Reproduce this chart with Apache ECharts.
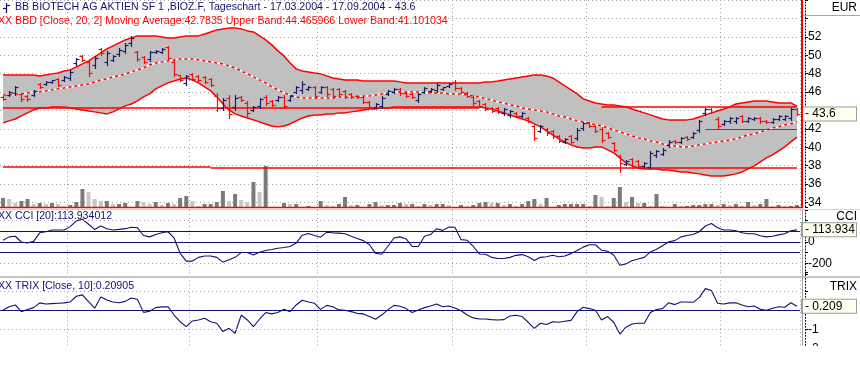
<!DOCTYPE html>
<html>
<head>
<meta charset="utf-8">
<script src="https://cdn.jsdelivr.net/npm/echarts@6/dist/echarts.min.js"></script>
<style>
html,body{margin:0;padding:0;background:#ffffff;}
#chart{width:860px;height:384px;}
</style>
</head>
<body>
<div id="chart"></div>
<script>
// ---------------- data ----------------
const tradingDays = {
  '2004-03': [17,18,19,22,23,24,25,26,29,30,31],
  '2004-04': [1,2,5,6,7,8,13,14,15,16,19,20,21,22,23,26,27,28,29,30],
  '2004-05': [3,4,5,6,7,10,11,12,13,14,17,18,19,20,21,24,25,26,27,28,31],
  '2004-06': [1,2,3,4,7,8,9,10,11,14,15,16,17,18,21,22,23,24,25,28,29,30],
  '2004-07': [1,2,5,6,7,8,9,12,13,14,15,16,19,20,21,22,23,26,27,28,29,30],
  '2004-08': [2,3,4,5,6,9,10,11,12,13,16,17,18,19,20,23,24,25,26,27,30,31],
  '2004-09': [1,2,3,6,7,8,9,10,13,14,15,16,17]
};
const dates = [];
Object.keys(tradingDays).forEach(m => tradingDays[m].forEach(d => dates.push(m + '-' + String(d).padStart(2, '0'))));

// [open, high, low, close]
const ohlc = [
[45.50,45.57,45.14,45.25],[45.70,46.12,45.57,46.00],[45.90,46.66,45.68,46.50],[45.80,45.90,45.03,45.20],[45.60,45.68,45.03,45.20],
[45.70,46.23,45.57,46.10],[46.90,46.99,46.44,46.55],[46.85,47.20,46.77,47.10],[47.05,47.31,46.99,47.25],[47.40,47.53,46.66,46.80],
[47.30,47.75,47.20,47.65],[47.50,48.40,47.31,48.20],[49.10,49.71,48.94,49.55],[49.90,50.03,49.38,49.50],[49.30,49.49,47.75,48.10],
[48.90,49.92,48.62,49.70],[50.70,50.79,50.03,50.20],[49.30,50.47,48.94,50.20],[49.50,50.03,49.38,49.90],[50.10,50.79,49.92,50.60],
[50.50,51.34,50.25,51.10],[51.30,52.10,51.01,51.90],[50.30,50.47,49.38,49.60],[49.80,49.92,49.16,49.30],[49.60,50.47,49.38,50.30],
[50.35,50.57,50.25,50.50],[50.40,50.79,50.25,50.70],[50.90,51.01,49.49,49.70],[49.30,49.49,47.75,48.00],[47.80,47.86,47.20,47.30],
[47.00,47.86,46.77,47.70],[47.95,48.07,47.31,47.45],[47.75,47.86,47.20,47.30],[47.60,47.75,46.99,47.10],[47.40,47.53,46.66,46.80],
[45.60,45.90,43.94,44.30],[44.30,45.36,44.05,45.10],[45.40,45.68,43.18,43.60],[44.40,45.68,44.05,45.40],[45.50,45.57,45.03,45.10],
[44.80,45.03,43.40,43.70],[44.05,44.49,43.94,44.40],[44.50,45.36,44.27,45.20],[45.50,45.68,44.60,44.80],[45.00,45.14,44.49,44.60],
[45.15,45.57,45.03,45.45],[45.50,45.68,44.27,44.50],[45.15,45.68,45.03,45.55],[46.00,46.66,45.90,46.50],[46.20,47.20,45.90,46.90],
[46.35,46.66,46.23,46.55],[46.50,46.66,45.36,45.60],[46.00,46.66,45.90,46.50],[46.50,46.66,45.57,45.80],[46.30,46.44,45.36,45.60],
[46.30,46.44,45.57,45.75],[46.10,46.23,45.36,45.50],[45.80,45.90,45.36,45.50],[45.60,45.68,45.36,45.45],[45.45,45.57,44.81,44.95],
[44.90,45.03,44.27,44.40],[44.40,44.81,44.27,44.70],[44.50,45.57,44.27,45.40],[45.80,46.23,45.68,46.10],[46.00,46.44,45.90,46.35],
[46.30,46.44,45.68,45.85],[45.90,46.01,45.47,45.60],[45.80,45.90,45.36,45.45],[45.10,45.90,44.92,45.75],[46.00,46.55,45.90,46.40],
[46.10,46.44,46.01,46.35],[46.20,46.99,46.01,46.80],[46.30,46.55,46.23,46.50],[46.65,46.99,46.55,46.90],[47.10,47.31,46.23,46.40],
[46.45,46.55,45.90,46.00],[45.90,46.01,45.47,45.60],[45.50,45.68,44.60,44.80],[45.00,45.14,44.38,44.50],[44.70,44.81,44.05,44.20],
[44.30,44.38,43.84,43.95],[44.25,44.38,43.73,43.85],[43.70,44.27,43.51,44.10],[43.50,44.05,43.29,43.90],[43.75,43.84,43.29,43.40],
[43.40,43.84,43.29,43.75],[43.20,43.29,42.75,42.90],[42.30,42.42,40.79,41.00],[41.80,42.42,41.66,42.30],[42.00,42.10,41.34,41.50],
[41.75,41.88,41.01,41.20],[41.20,41.34,40.57,40.70],[40.60,41.01,40.47,40.90],[41.20,41.34,40.47,40.60],[41.00,42.10,40.79,41.90],
[42.10,42.75,41.88,42.60],[42.65,42.75,42.21,42.30],[42.30,42.42,41.66,41.80],[42.00,42.21,40.57,40.80],[41.55,41.66,41.01,41.15],
[40.50,40.57,39.60,39.75],[39.00,39.10,37.31,38.30],[38.20,38.62,38.08,38.50],[38.70,38.84,37.75,38.00],[38.50,38.62,37.86,38.00],
[37.95,38.40,37.86,38.25],[37.90,39.60,37.75,39.40],[39.10,39.71,38.94,39.55],[39.30,39.92,39.16,39.75],[40.20,40.79,40.03,40.60],
[40.70,40.79,40.47,40.55],[40.60,41.12,40.47,41.00],[41.15,41.23,40.79,40.90],[41.15,41.66,41.01,41.50],[41.90,42.97,41.66,42.80],
[43.70,44.27,43.51,44.10],[44.20,44.27,43.73,43.85],[43.10,43.29,42.10,42.30],[42.55,42.97,42.42,42.85],[42.80,43.29,42.64,43.15],
[42.80,43.29,42.64,43.15],[43.40,43.51,42.75,42.90],[42.90,43.29,42.75,43.20],[43.05,43.29,42.97,43.20],[43.20,43.29,42.64,42.80],
[42.90,42.97,42.64,42.70],[42.75,43.18,42.64,43.05],[43.10,43.51,42.97,43.40],[43.10,43.51,42.97,43.40],[43.20,44.27,42.97,44.10],
[44.20,44.27,43.51,43.60]
];

const volume = [
9,8,4,6,8,3,4,3,4,3, 1,2,5,18,15,8,6,6,3,3, 4,0,6,5,3,5,2,4,3,9, 11,6,1,3,3,5,16,6,13,7,
5,25,15,41,0,0,4,3,3,0, 1,0,6,2,1,3,10,2,2,0, 3,5,2,2,2,4,3,3,1,3,2,
3,3,2,0,2,1,2,4,5,4, 4,2,3,1,3,6,8,3,9,0, 2,3,3,3,3,1,12,10,1,9, 20,5,10,4,4,1,13,1,0,3,
1,1,2,2,3,3,2,3,2,3, 1,5,2,3,8,1,2,1,1,2
];

const bbUpper = [
47.86,47.86,47.86,47.86,47.86,47.86,47.75,47.86,47.97,48.07, 48.29,48.40,48.73,49.05,49.38,49.81,50.25,50.68,51.01,51.34,
51.66,51.88,52.10,52.10,52.10,52.10,51.99,51.88,51.88,51.99, 52.10,52.10,52.10,52.31,52.53,52.75,52.86,52.97,52.97,52.86,
52.64,52.53,52.10,51.66,51.12,50.47,49.92,49.16,48.51,48.29, 48.18,48.07,47.97,47.75,47.53,47.42,47.31,47.31,47.31,47.20,
47.20,47.20,47.20,47.20,47.20,47.10,46.99,46.99,46.99,46.99, 46.99,46.99,46.99,46.99,46.99,46.99,46.99,46.99,46.99,47.10,
47.10,47.20,47.31,47.42,47.53,47.64,47.75,47.86,47.86,47.75, 47.53,47.10,46.66,46.23,45.79,45.25,45.03,44.81,44.70,44.60,
44.60,44.49,44.38,44.16,43.94,43.73,43.51,43.29,43.07,42.97, 42.97,42.97,42.97,43.07,43.29,43.51,43.73,43.94,44.16,44.38,
44.70,44.81,44.92,45.03,45.03,45.03,44.92,44.81,44.81,44.81, 44.47
];
const bbMid = [
45.68,45.68,45.79,45.79,45.90,46.01,46.01,46.12,46.23,46.34, 46.44,46.55,46.66,46.77,46.88,47.10,47.31,47.42,47.64,47.75,
47.97,48.18,48.40,48.62,48.94,49.16,49.27,49.38,49.49,49.60, 49.60,49.60,49.49,49.38,49.27,49.16,49.05,48.84,48.62,48.29,
47.97,47.64,47.31,46.99,46.55,46.23,45.90,45.68,45.47,45.36, 45.36,45.36,45.36,45.36,45.36,45.47,45.47,45.47,45.47,45.57,
45.57,45.68,45.79,45.90,46.01,46.01,46.01,46.01,46.01,45.90, 45.90,45.90,45.90,45.79,45.79,45.79,45.68,45.57,45.47,45.25,
45.14,44.92,44.81,44.60,44.49,44.27,44.16,44.05,43.94,43.84, 43.62,43.40,43.29,43.07,42.86,42.75,42.64,42.42,42.31,42.10,
41.88,41.66,41.44,41.23,41.01,40.90,40.68,40.57,40.36,40.25, 40.14,40.03,40.03,40.14,40.25,40.36,40.47,40.57,40.68,40.79,
40.90,41.12,41.34,41.44,41.66,41.88,42.10,42.21,42.42,42.53, 42.78
];
const bbLower = [
42.64,42.86,43.07,43.40,43.73,44.05,44.27,44.27,44.38,44.38, 44.38,44.27,44.16,44.05,43.94,43.84,43.73,43.62,43.84,44.16,
44.49,44.70,45.03,45.47,45.79,46.34,46.66,46.99,47.20,47.42, 47.53,47.31,46.99,46.55,46.12,45.47,44.70,44.05,43.62,43.40,
43.18,42.97,42.75,42.53,42.31,42.21,42.31,42.53,42.86,43.18, 43.40,43.51,43.51,43.62,43.62,43.73,43.73,43.84,43.94,44.05,
44.16,44.16,44.27,44.27,44.38,44.38,44.38,44.38,44.38,44.38, 44.38,44.38,44.38,44.38,44.38,44.38,44.38,44.38,44.38,44.27,
44.16,43.94,43.73,43.51,43.29,43.07,42.86,42.53,42.21,41.77, 41.34,40.90,40.57,40.25,40.03,39.92,39.92,40.03,40.03,39.71,
39.38,38.84,38.29,37.97,37.75,37.64,37.64,37.64,37.53,37.53, 37.42,37.31,37.31,37.20,37.10,36.99,36.88,36.88,36.88,36.99,
37.10,37.31,37.64,37.97,38.40,38.84,39.16,39.60,40.03,40.57, 41.10
];

const cci = [
16,48,54,0,-10,6,86,96,112,112, 112,144,198,214,166,118,150,125,112,118,
125,138,134,61,48,70,86,96,38,-106, -179,-179,-144,-131,-131,-144,-189,-166,-144,-99,
-99,-122,-96,-80,-70,-58,-51,-42,-10,64, 80,61,45,93,86,83,77,54,32,13,
-26,-106,-115,-42,38,48,29,-42,-42,54, 70,125,109,141,138,22,16,-42,-112,-115,
-144,-154,-154,-144,-125,-118,-138,-173,-144,-138, -125,-138,-131,-109,-80,-48,-26,-26,-77,-86,
-122,-218,-205,-176,-160,-144,-93,-67,-35,3, 13,48,61,70,96,150,173,134,112,112,
106,86,77,77,58,48,54,67,77,106, 114
];

const trix = [
0.02,0.19,0.28,-0.07,0.04,0.14,0.39,0.33,0.35,0.37, 0.39,0.44,0.74,0.81,0.46,0.11,0.70,0.54,0.44,0.40,
0.47,0.65,0.58,-0.11,-0.05,0.14,0.18,0.19,-0.25,-0.60, -0.86,-0.56,-0.51,-0.42,-0.60,-0.68,-1.12,-0.95,-1.21,-0.25,
-0.51,-0.86,-0.47,-0.12,-0.19,-0.12,0.05,-0.07,0.28,0.53, 0.44,0.37,0.05,0.26,0.19,0.02,0,-0.07,-0.16,-0.19,
-0.33,-0.47,-0.25,0.02,0.26,0.21,0.09,-0.12,0.02,0.14, 0.23,0.33,0.19,0.23,0.12,-0.02,-0.25,-0.40,-0.46,-0.46,
-0.49,-0.51,-0.49,-0.30,-0.26,-0.33,-0.63,-0.95,-0.68,-0.75, -0.60,-0.63,-0.58,-0.53,-0.07,0.16,0.09,0,-0.51,-0.33,
-0.63,-1.25,-0.89,-0.72,-0.68,-0.68,-0.12,0.04,0.09,0.40, 0.30,0.44,0.44,0.42,0.67,1.14,1.04,0.37,0.33,0.39,
0.40,0.28,0.19,0.23,0.05,0,0.11,0.19,0.16,0.40, 0.21
];

// annotation levels drawn on the price panel: [fromIndex, toIndex, price]
const resistanceLines = [[0, 78, 44.30], [98, 130, 44.35], [0, 34, 37.88], [34, 130, 37.77]];
const supportLine42 = [115, 130, 42.0];

const priceLabels = [34, 36, 38, 40, 42, 46, 48, 50, 52];
const cciLabels = [0, -200];
const trixLabels = [-1, -2];
const lastClose = 43.6, lastCci = 113.934, lastTrix = 0.209;

const titleText = 'BB BIOTECH AG AKTIEN SF 1 ,BIOZ.F, Tageschart - 17.03.2004 - 17.09.2004 - 43.6';
const bbText = 'XX BBD [Close, 20, 2] Moving Average:42.7835 Upper Band:44.465966 Lower Band:41.101034';
const cciText = 'XX CCI [20]:113.934012';
const trixText = 'XX TRIX [Close, 10]:0.20905';

// ---------------- chart ----------------
const FONT = 'Liberation Sans';
const UP = '#1c1c66', DOWN = '#ee1010', NAVY = '#121270', RED = '#ff0000';
const GRIDC = '#a4a4a4';

const chart = echarts.init(document.getElementById('chart'), null, {renderer: 'canvas'});

const monthStart = idx => idx > 0 && dates[idx].slice(0, 7) !== dates[idx - 1].slice(0, 7);

function rightAxis(grid, extra, labels) {
  return Object.assign({
    type: 'value', gridIndex: grid, position: 'right', offset: 5,
    axisLine: {show: true, lineStyle: {color: '#000', type: [1, 2], width: 1}},
    axisTick: {show: true, length: 3, lineStyle: {color: '#000'}},
    axisLabel: {margin: 3, fontFamily: FONT, fontSize: 12, color: '#000',
      formatter: v => labels.includes(v) ? String(v) : ''},
    splitLine: {show: false}
  }, extra);
}

function boxLabel(text) {
  return {show: true, position: 'end', distance: 2, formatter: text, fontFamily: FONT, fontSize: 12,
    color: '#000', backgroundColor: '#fffff0', borderColor: '#9c9c9c', borderWidth: 1,
    padding: [1, 2, 0, 3], width: 49, lineHeight: 12, align: 'left', verticalAlign: 'middle'};
}
const hiddenLine = {color: 'rgba(0,0,0,0)', width: 0, type: 'solid'};

const segStyle = {color: RED, width: 1.5, type: 'solid'};
const s42Style = {color: '#b42828', width: 1, type: 'solid'};
const priceMarks = resistanceLines.map(s => [
  {coord: [dates[s[0]], s[2]], lineStyle: segStyle},
  {coord: [dates[s[1]], s[2]], lineStyle: segStyle}
]);
priceMarks.push([
  {coord: [dates[supportLine42[0]], supportLine42[2]], lineStyle: s42Style},
  {coord: [dates[supportLine42[1]], supportLine42[2]], lineStyle: s42Style}
]);

const navyLine = {color: NAVY, width: 1.2, type: 'solid'};
const dotLine = {color: GRIDC, width: 1, type: [1, 3]};

function boxMark(value) {
  return {silent: true, symbol: ['none', 'none'], animation: false, z: 20, emphasis: {disabled: true},
    lineStyle: hiddenLine, label: boxLabel('- ' + value), data: [{yAxis: value}]};
}

const option = {
  animation: false,
  backgroundColor: '#ffffff',
  grid: [
    {left: 0, top: 0, width: 800, height: 207, outerBoundsMode: 'none'},
    {left: 0, top: 210, width: 800, height: 64, outerBoundsMode: 'none'},
    {left: 0, top: 272.3, width: 800, height: 76, outerBoundsMode: 'none'}
  ],
  xAxis: [0, 1, 2].map(g => ({
    type: 'category', gridIndex: g, data: dates, boundaryGap: true,
    axisLine: {show: false}, axisTick: {show: false}, axisLabel: {show: false},
    splitLine: {show: true, interval: (idx) => monthStart(idx), lineStyle: {color: GRIDC, type: [1, 3], width: 1}}
  })),
  yAxis: [
    rightAxis(0, {min: 33.5, max: 56, splitNumber: 11,
      splitLine: {show: true, lineStyle: {color: GRIDC, type: [1, 3], width: 1}}}, priceLabels),
    {type: 'value', gridIndex: 0, show: false, min: 0, max: 207, splitLine: {show: false}},
    rightAxis(1, {min: -300, max: 300, interval: 100}, cciLabels),
    rightAxis(2, {min: -2, max: 2, interval: 1}, trixLabels)
  ],
  series: [
    {name: 'Volume', type: 'bar', xAxisIndex: 0, yAxisIndex: 1, data: volume, barWidth: 4, silent: true, z: 1,
      itemStyle: {color: p => (p.dataIndex === 0 || volume[p.dataIndex] >= volume[p.dataIndex - 1]) ? '#7a7a7a' : '#c6c6c6'}},
    {name: 'BB base', type: 'line', xAxisIndex: 0, yAxisIndex: 0, data: bbLower, stack: 'bb', symbol: 'none', z: 1,
      lineStyle: {opacity: 0}, silent: true},
    {name: 'BB band', type: 'line', xAxisIndex: 0, yAxisIndex: 0, stack: 'bb', symbol: 'none', silent: true, z: 1,
      data: bbUpper.map((u, i) => +(u - bbLower[i]).toFixed(2)),
      lineStyle: {opacity: 0}, areaStyle: {color: '#c0c0c0', opacity: 1}},
    {name: 'Upper Band', type: 'line', xAxisIndex: 0, yAxisIndex: 0, data: bbUpper, symbol: 'none', silent: true, z: 2,
      lineStyle: {color: RED, width: 1.5}},
    {name: 'Lower Band', type: 'line', xAxisIndex: 0, yAxisIndex: 0, data: bbLower, symbol: 'none', silent: true, z: 2,
      lineStyle: {color: RED, width: 1.5}},
    {name: 'MA base', type: 'line', xAxisIndex: 0, yAxisIndex: 0, data: bbMid, symbol: 'none', silent: true, z: 2,
      lineStyle: {color: '#ffffff', width: 1.5}},
    {name: 'Moving Average', type: 'line', xAxisIndex: 0, yAxisIndex: 0, data: bbMid, symbol: 'none', silent: true, z: 2,
      lineStyle: {color: RED, width: 1.5, type: [3, 3]},
      markLine: {silent: true, symbol: ['none', 'none'], animation: false, label: {show: false},
        emphasis: {disabled: true}, data: priceMarks}},
    {name: 'OHLC', type: 'custom', xAxisIndex: 0, yAxisIndex: 0, silent: true, z: 6,
      data: ohlc.map((d, i) => [i, d[0], d[1], d[2], d[3]]),
      encode: {x: 0, y: [1, 2, 3, 4]},
      renderItem: (params, api) => {
        const i = api.value(0), o = api.value(1), h = api.value(2), l = api.value(3), c = api.value(4);
        const pH = api.coord([i, h]), pL = api.coord([i, l]), pO = api.coord([i, o]), pC = api.coord([i, c]);
        const x = Math.round(pH[0]) + 0.5;
        const yo = Math.round(pO[1]) + 0.5, yc = Math.round(pC[1]) + 0.5;
        const st = {stroke: c >= o ? UP : DOWN, lineWidth: 1.2};
        return {type: 'group', children: [
          {type: 'line', shape: {x1: x, y1: Math.round(pH[1]), x2: x, y2: Math.round(pL[1]) + 1}, style: st},
          {type: 'line', shape: {x1: x - 3, y1: yo, x2: x, y2: yo}, style: st},
          {type: 'line', shape: {x1: x, y1: yc, x2: x + 3, y2: yc}, style: st}
        ]};
      },
      markLine: boxMark(lastClose)},
    {name: 'CCI', type: 'line', xAxisIndex: 1, yAxisIndex: 2, data: cci, symbol: 'none', silent: true,
      lineStyle: {color: NAVY, width: 1.1},
      markLine: {silent: true, symbol: ['none', 'none'], animation: false, label: {show: false}, emphasis: {disabled: true},
        data: [
          {yAxis: 100, lineStyle: navyLine}, {yAxis: 0, lineStyle: navyLine}, {yAxis: -100, lineStyle: navyLine},
          {yAxis: 200, lineStyle: dotLine}, {yAxis: -200, lineStyle: dotLine}
        ]}},
    {name: 'CCI value', type: 'line', xAxisIndex: 1, yAxisIndex: 2, data: [], markLine: boxMark(lastCci)},
    {name: 'TRIX', type: 'line', xAxisIndex: 2, yAxisIndex: 3, data: trix, symbol: 'none', silent: true,
      lineStyle: {color: NAVY, width: 1.1},
      markLine: {silent: true, symbol: ['none', 'none'], animation: false, label: {show: false}, emphasis: {disabled: true},
        data: [
          {yAxis: 0, lineStyle: navyLine},
          {yAxis: 1, lineStyle: dotLine}, {yAxis: -1, lineStyle: dotLine}
        ]}},
    {name: 'TRIX value', type: 'line', xAxisIndex: 2, yAxisIndex: 3, data: [], markLine: boxMark(lastTrix)}
  ],
  graphic: {elements: [
    {type: 'line', z: 50, shape: {x1: 802, y1: 0, x2: 802, y2: 208}, style: {stroke: RED, lineWidth: 2}},
    {type: 'line', z: 50, shape: {x1: 0, y1: 207.5, x2: 803, y2: 207.5}, style: {stroke: RED, lineWidth: 1.5}},
    {type: 'line', z: 50, shape: {x1: 803, y1: 15.5, x2: 860, y2: 15.5}, style: {stroke: '#a8a8a8', lineWidth: 1}},
    {type: 'line', z: 50, shape: {x1: 0, y1: 209.5, x2: 860, y2: 209.5}, style: {stroke: '#d4d4d4', lineWidth: 1}},
    {type: 'line', z: 50, shape: {x1: 0, y1: 277, x2: 860, y2: 277}, style: {stroke: '#c4c4c4', lineWidth: 2}},
    {type: 'line', z: 50, shape: {x1: 802.5, y1: 209, x2: 802.5, y2: 346}, style: {stroke: '#a0a0a0', lineWidth: 1}},
    // title glyph
    {type: 'line', z: 50, shape: {x1: 6.5, y1: 3, x2: 6.5, y2: 13}, style: {stroke: NAVY, lineWidth: 1.2}},
    {type: 'line', z: 50, shape: {x1: 3, y1: 8.5, x2: 6.5, y2: 8.5}, style: {stroke: NAVY, lineWidth: 1.2}},
    {type: 'line', z: 50, shape: {x1: 6.5, y1: 5.5, x2: 10, y2: 5.5}, style: {stroke: NAVY, lineWidth: 1.2}},
    {type: 'text', z: 50, x: 15, y: 2, style: {text: titleText, fill: NAVY, font: '10.6px "Liberation Sans"'}},
    {type: 'text', z: 50, x: -2, y: 16, style: {text: bbText, fill: RED, font: '10.6px "Liberation Sans"'}},
    {type: 'text', z: 50, x: -2, y: 211, style: {text: cciText, fill: NAVY, font: '10.6px "Liberation Sans"'}},
    {type: 'text', z: 50, x: -2, y: 281, style: {text: trixText, fill: NAVY, font: '10.6px "Liberation Sans"'}},
    {type: 'text', z: 50, x: 857, y: 2, style: {text: 'EUR', fill: '#000', font: '12px "Liberation Sans"', align: 'right'}},
    {type: 'text', z: 50, x: 857, y: 211, style: {text: 'CCI', fill: '#000', font: '12px "Liberation Sans"', align: 'right'}},
    {type: 'text', z: 50, x: 857, y: 281, style: {text: 'TRIX', fill: '#000', font: '12px "Liberation Sans"', align: 'right'}},
    {type: 'rect', z: 100, shape: {x: 0, y: 346, width: 860, height: 38}, style: {fill: '#ffffff'}}
  ]}
};
chart.setOption(option);
</script>
</body>
</html>
